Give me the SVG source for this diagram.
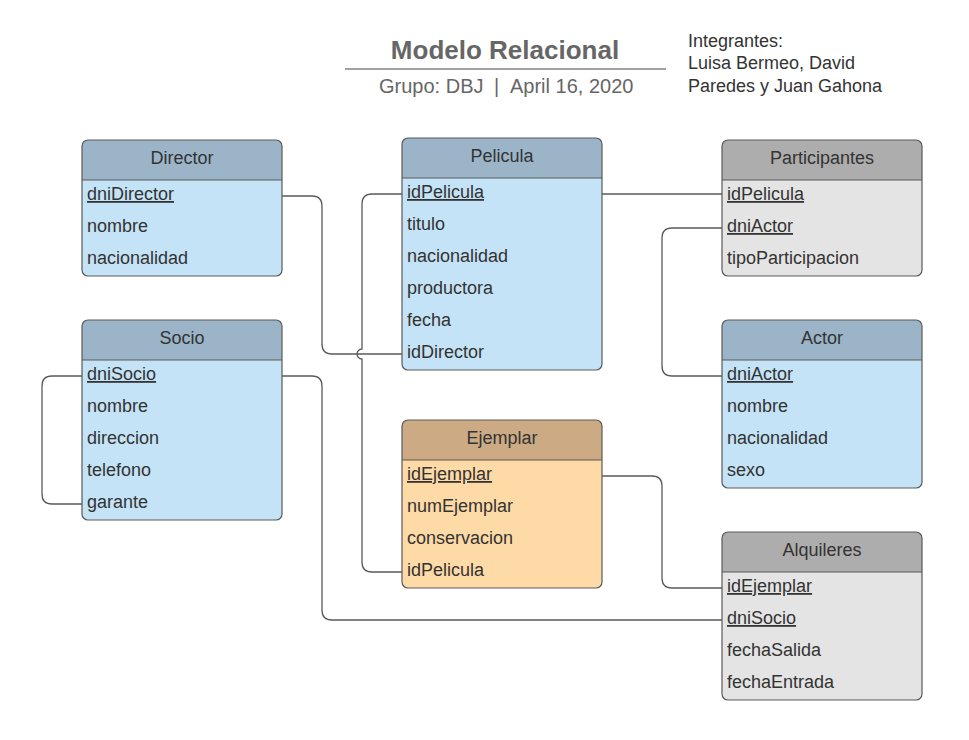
<svg xmlns="http://www.w3.org/2000/svg" width="969" height="740" viewBox="0 0 969 740">
<style>
  text { font-family: "Liberation Sans", Arial, sans-serif; }
  .title { font-size: 26px; font-weight: bold; fill: #666666; }
  .sub { font-size: 20px; fill: #666666; }
  .info { font-size: 18px; fill: #333333; }
  .hdr { font-size: 18px; fill: #333333; text-anchor: middle; }
  .fld { font-size: 18px; fill: #333333; }
  .pk { text-decoration: underline; }
  .box { fill: none; stroke: #5a5a5a; stroke-width: 1.2; }
  .sep { stroke: #5a5a5a; stroke-width: 1.2; }
  .blue .hfill { fill: #9bb4c8; }
  .blue .bfill { fill: #c4e3f6; }
  .gray .hfill { fill: #adadad; }
  .gray .bfill { fill: #e4e4e4; }
  .tan .hfill { fill: #ccaa84; }
  .tan .bfill { fill: #fedaa6; }
  .conn path { fill: none; stroke: #5a5a5a; stroke-width: 1.3; }
</style>
<rect width="969" height="740" fill="#ffffff"/>

<g id="header">
  <text class="title" x="505" y="59" text-anchor="middle">Modelo Relacional</text>
  <line x1="345" y1="69" x2="666" y2="69" stroke="#a0a0a0" stroke-width="2"/>
  <text class="sub" x="379" y="93">Grupo: DBJ</text>
  <text class="sub" x="494" y="93">|</text>
  <text class="sub" x="510" y="93">April 16, 2020</text>
</g>
<g id="integrantes">
  <text class="info" x="688" y="47">Integrantes:</text>
  <text class="info" x="688" y="69">Luisa Bermeo, David</text>
  <text class="info" x="688" y="92">Paredes y Juan Gahona</text>
</g>

<g id="connectors" class="conn">
  <!-- Director.dniDirector -> Pelicula.idDirector -->
  <path d="M282,196 H312 Q322,196 322,206 V344 Q322,354 332,354 H402"/>
  <!-- Pelicula.idPelicula -> Ejemplar.idPelicula (with hop) -->
  <path d="M402,194 H372 Q362,194 362,204 V349 A5,5 0 0 0 362,359 V562 Q362,572 372,572 H402"/>
  <!-- Pelicula.idPelicula -> Participantes.idPelicula -->
  <path d="M602,194 H722"/>
  <!-- Participantes.dniActor -> Actor.dniActor -->
  <path d="M722,228 H672 Q662,228 662,238 V366 Q662,376 672,376 H722"/>
  <!-- Socio.dniSocio -> Socio.garante -->
  <path d="M82,376 H52 Q42,376 42,386 V494 Q42,504 52,504 H82"/>
  <!-- Socio.dniSocio -> Alquileres.dniSocio -->
  <path d="M282,376 H312 Q322,376 322,386 V610 Q322,620 332,620 H722"/>
  <!-- Ejemplar.idEjemplar -> Alquileres.idEjemplar -->
  <path d="M602,476 H652 Q662,476 662,486 V578 Q662,588 672,588 H722"/>
</g>

<g id="director" class="blue">
  <rect class="bfill" x="82" y="140" width="200" height="136" rx="6"/>
  <path class="hfill" d="M82,180 V146 A6,6 0 0 1 88,140 H276 A6,6 0 0 1 282,146 V180 Z"/>
  <line class="sep" x1="82" y1="180" x2="282" y2="180"/>
  <rect class="box" x="82" y="140" width="200" height="136" rx="6"/>
  <text class="hdr" x="182" y="164">Director</text>
  <text class="fld pk" x="87" y="200">dniDirector</text>
  <text class="fld" x="87" y="232">nombre</text>
  <text class="fld" x="87" y="264">nacionalidad</text>
</g>

<g id="socio" class="blue">
  <rect class="bfill" x="82" y="320" width="200" height="200" rx="6"/>
  <path class="hfill" d="M82,360 V326 A6,6 0 0 1 88,320 H276 A6,6 0 0 1 282,326 V360 Z"/>
  <line class="sep" x1="82" y1="360" x2="282" y2="360"/>
  <rect class="box" x="82" y="320" width="200" height="200" rx="6"/>
  <text class="hdr" x="182" y="344">Socio</text>
  <text class="fld pk" x="87" y="380">dniSocio</text>
  <text class="fld" x="87" y="412">nombre</text>
  <text class="fld" x="87" y="444">direccion</text>
  <text class="fld" x="87" y="476">telefono</text>
  <text class="fld" x="87" y="508">garante</text>
</g>

<g id="pelicula" class="blue">
  <rect class="bfill" x="402" y="138" width="200" height="232" rx="6"/>
  <path class="hfill" d="M402,178 V144 A6,6 0 0 1 408,138 H596 A6,6 0 0 1 602,144 V178 Z"/>
  <line class="sep" x1="402" y1="178" x2="602" y2="178"/>
  <rect class="box" x="402" y="138" width="200" height="232" rx="6"/>
  <text class="hdr" x="502" y="162">Pelicula</text>
  <text class="fld pk" x="407" y="198">idPelicula</text>
  <text class="fld" x="407" y="230">titulo</text>
  <text class="fld" x="407" y="262">nacionalidad</text>
  <text class="fld" x="407" y="294">productora</text>
  <text class="fld" x="407" y="326">fecha</text>
  <text class="fld" x="407" y="358">idDirector</text>
</g>

<g id="participantes" class="gray">
  <rect class="bfill" x="722" y="140" width="200" height="136" rx="6"/>
  <path class="hfill" d="M722,180 V146 A6,6 0 0 1 728,140 H916 A6,6 0 0 1 922,146 V180 Z"/>
  <line class="sep" x1="722" y1="180" x2="922" y2="180"/>
  <rect class="box" x="722" y="140" width="200" height="136" rx="6"/>
  <text class="hdr" x="822" y="164">Participantes</text>
  <text class="fld pk" x="727" y="200">idPelicula</text>
  <text class="fld pk" x="727" y="232">dniActor</text>
  <text class="fld" x="727" y="264">tipoParticipacion</text>
</g>

<g id="actor" class="blue">
  <rect class="bfill" x="722" y="320" width="200" height="168" rx="6"/>
  <path class="hfill" d="M722,360 V326 A6,6 0 0 1 728,320 H916 A6,6 0 0 1 922,326 V360 Z"/>
  <line class="sep" x1="722" y1="360" x2="922" y2="360"/>
  <rect class="box" x="722" y="320" width="200" height="168" rx="6"/>
  <text class="hdr" x="822" y="344">Actor</text>
  <text class="fld pk" x="727" y="380">dniActor</text>
  <text class="fld" x="727" y="412">nombre</text>
  <text class="fld" x="727" y="444">nacionalidad</text>
  <text class="fld" x="727" y="476">sexo</text>
</g>

<g id="ejemplar" class="tan">
  <rect class="bfill" x="402" y="420" width="200" height="168" rx="6"/>
  <path class="hfill" d="M402,460 V426 A6,6 0 0 1 408,420 H596 A6,6 0 0 1 602,426 V460 Z"/>
  <line class="sep" x1="402" y1="460" x2="602" y2="460"/>
  <rect class="box" x="402" y="420" width="200" height="168" rx="6"/>
  <text class="hdr" x="502" y="444">Ejemplar</text>
  <text class="fld pk" x="407" y="480">idEjemplar</text>
  <text class="fld" x="407" y="512">numEjemplar</text>
  <text class="fld" x="407" y="544">conservacion</text>
  <text class="fld" x="407" y="576">idPelicula</text>
</g>

<g id="alquileres" class="gray">
  <rect class="bfill" x="722" y="532" width="200" height="168" rx="6"/>
  <path class="hfill" d="M722,572 V538 A6,6 0 0 1 728,532 H916 A6,6 0 0 1 922,538 V572 Z"/>
  <line class="sep" x1="722" y1="572" x2="922" y2="572"/>
  <rect class="box" x="722" y="532" width="200" height="168" rx="6"/>
  <text class="hdr" x="822" y="556">Alquileres</text>
  <text class="fld pk" x="727" y="592">idEjemplar</text>
  <text class="fld pk" x="727" y="624">dniSocio</text>
  <text class="fld" x="727" y="656">fechaSalida</text>
  <text class="fld" x="727" y="688">fechaEntrada</text>
</g>
</svg>
